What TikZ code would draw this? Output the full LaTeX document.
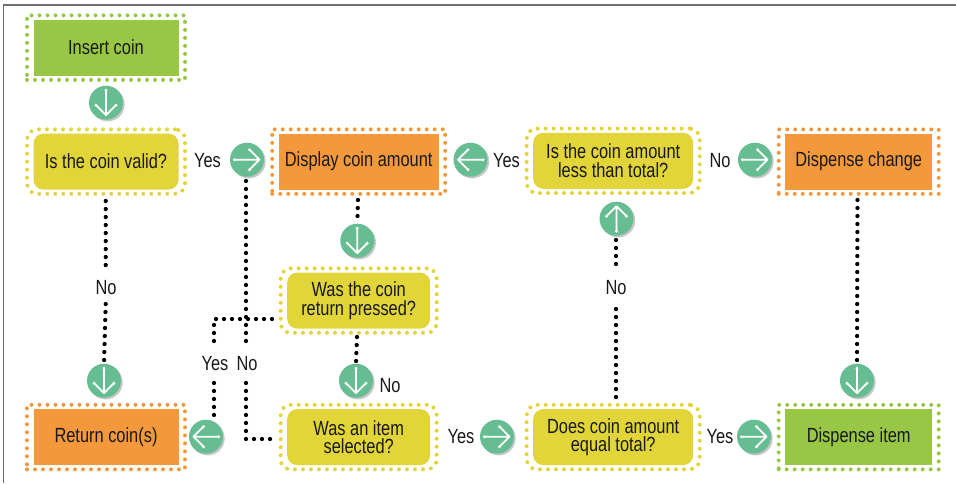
\documentclass[tikz,border=0pt]{standalone}
\usepackage{fontspec}
\setmainfont[FakeStretch=0.8]{Liberation Sans}
\usetikzlibrary{calc}
\definecolor{cgreen}{HTML}{98C746}
\definecolor{cyellow}{HTML}{E2D539}
\definecolor{corange}{HTML}{F4983C}
\definecolor{cteal}{HTML}{66BD92}
\definecolor{cframe}{HTML}{6E6E6E}
\tikzset{
  x=1pt,y=-1pt,
  lbl/.style={font=\fontsize{20.5}{18.3}\selectfont,align=center,inner sep=0pt,text=black!90},
  inbox/.style={minimum height=56pt,inner sep=0pt,outer sep=0pt,align=center,font=\fontsize{20.5}{18.3}\selectfont,text=black!90},
  border/.style={draw,line width=4pt,line cap=round,dash pattern=on 0pt off 8pt,minimum height=64.5pt,inner sep=0pt,outer sep=0pt},
  conn/.style={line width=4.3pt,line cap=round,dash pattern=on 0pt off 8pt,black},
  roundy/.style={rounded corners=10pt},
  arrowhalo/.style={circle,fill=cteal,minimum size=34pt,inner sep=0pt,outer sep=0pt},
}
% name, centre, inner width, colour, extra, text
\newcommand{\flowbox}[6]{%
  \node[border,draw=#4,minimum width=\dimexpr#3pt+13pt\relax,#5] (#1) at ($(#2)+(0.5,0.6)$) {};
  \node[inbox,fill=#4,minimum width=#3pt,#5] (#1t) at ($(#2)+(0.5,0.6)$) {#6};
}
\newcommand{\arrowdisc}[3]{%
  \fill[black!22] ($(#2)+(2.7,2.4)$) circle[radius=17];
  \node[arrowhalo] (#1) at ($(#2)+(1,0.7)$) {};
  \begin{scope}[shift={($(#2)+(1,0.7)$)},rotate=#3,white,line width=1.8pt,line cap=round,line join=round]
    \draw (0,-12.5) -- (0,12.5) (-10,2.5) -- (0,12.5) -- (10,2.5);
    \fill (0,-12.5) circle[radius=1.6] (-10,2.5) circle[radius=1.6] (10,2.5) circle[radius=1.6];
  \end{scope}
}
\begin{document}
\begin{tikzpicture}
\useasboundingbox (0,0) rectangle (956,483);
\fill[white] (0,0) rectangle (956,483);
\draw[cframe,line width=1.2pt] (3.4,483) -- (3.4,5) -- (956,5);

\flowbox{insert}{105.5,47}{145}{cgreen}{}{Insert coin}
\flowbox{valid}{105.5,161}{145}{cyellow}{roundy}{Is the coin valid?}
\flowbox{display}{358.2,161}{160}{corange}{}{Display coin amount}
\flowbox{less}{612.7,160.2}{160}{cyellow}{roundy}{Is the coin amount\\less than total?}
\flowbox{change}{858.2,161}{147}{corange}{}{Dispense change}
\flowbox{pressed}{358.2,300}{143}{cyellow}{roundy}{Was the coin\\return pressed?}
\flowbox{selected}{358.2,436.5}{143}{cyellow}{roundy}{Was an item\\selected?}
\flowbox{coins}{105.5,436.5}{145}{corange}{}{Return coin(s)}
\flowbox{equal}{612.7,436.5}{160}{cyellow}{roundy}{Does coin amount\\equal total?}
\flowbox{item}{858.2,436.5}{147}{cgreen}{}{Dispense item}

\arrowdisc{a1}{105,102}{0}
\arrowdisc{a2}{246,159}{90}
\arrowdisc{a3}{469.5,159}{-90}
\arrowdisc{a4}{754,159}{90}
\arrowdisc{a5}{356.3,240}{0}
\arrowdisc{a6}{615.5,218}{180}
\arrowdisc{a7}{103,380}{0}
\arrowdisc{a8}{355,380}{0}
\arrowdisc{a9}{856,380}{0}
\arrowdisc{a10}{205,436}{-90}
\arrowdisc{a11}{496,436}{90}
\arrowdisc{a12}{753,436}{90}

\node[lbl] (ly1) at (207.5,160.5) {Yes};
\node[lbl] (ly2) at (506.5,160.5) {Yes};
\node[lbl] (ln1) at (720,160.5) {No};
\node[lbl] (ln2) at (106,287.5) {No};
\node[lbl] (ln3) at (616,287.5) {No};
\node[lbl] (ly3) at (215,363.5) {Yes};
\node[lbl] (ln4) at (247,363.5) {No};
\node[lbl] (ln5) at (390,385.5) {No};
\node[lbl] (ly4) at (461,436.5) {Yes};
\node[lbl] (ly5) at (720,436.5) {Yes};

\coordinate (b1) at (105.7,201);
\coordinate (b2) at (105.7,270);
\coordinate (b3) at (105.7,304);
\coordinate (c1) at (246,181);
\coordinate (c2) at (246,343);
\coordinate (c3) at (246,383);
\coordinate (c4) at (246,439);
\coordinate (c5) at (273,439);
\coordinate (d1) at (272,319);
\coordinate (d2) at (214,319);
\coordinate (d3) at (214,343);
\coordinate (d4) at (214,383);
\coordinate (d5) at (214,415);
\coordinate (e1) at (616,240);
\coordinate (e2) at (616,270);
\coordinate (e3) at (616,309);
\coordinate (e4) at (616,400);
\coordinate (f1) at (358,200);
\coordinate (f2) at (357,337);
\coordinate (f3) at (857.5,200);

\draw[conn] (b1) -- (b2);
\draw[conn] (b3) -- (a7.north);
\draw[conn] (c1) -- (c2);
\draw[conn] (c3) -- (c4) -- (c5);
\draw[conn] (d1) -- (d2) -- (d3);
\draw[conn] (d4) -- (d5);
\draw[conn] (e1) -- (e2);
\draw[conn] (e3) -- (e4);
\draw[conn] (f1) -- (a5.north);
\draw[conn] (f2) -- (a8.north);
\draw[conn] (f3) -- (a9.north);
\end{tikzpicture}
\end{document}
